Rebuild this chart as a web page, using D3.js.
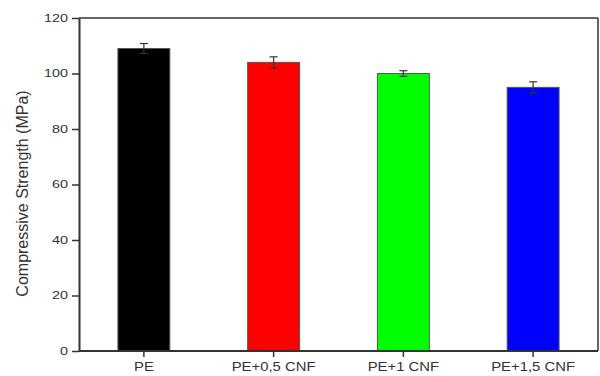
<!DOCTYPE html>
<html>
<head>
<meta charset="utf-8">
<script src="https://cdn.jsdelivr.net/npm/d3@7"></script>
<style>
  html, body { margin: 0; padding: 0; background: #fff; }
  svg { display: block; font-family: "Liberation Sans", Arial, sans-serif; }
</style>
</head>
<body>
<svg id="chart" width="600" height="376"></svg>
<script>
// Compressive strength of PE and PE/CNF composites
const categories = ["PE", "PE+0,5 CNF", "PE+1 CNF", "PE+1,5 CNF"];
const strength = [109, 104, 100, 95];
const strengthErr = [1.8, 2.0, 1.0, 2.0];
const barColors = ["#000000", "#ff0000", "#00ff00", "#0000ff"];
const yTicks = [0, 20, 40, 60, 80, 100, 120];
const yLabel = "Compressive Strength (MPa)";

const svg = d3.select("#chart");
const margin = { left: 79, right: 2, top: 18, bottom: 25 };
const W = 600, H = 376;
const x0 = margin.left, x1 = W - margin.right;
const y0 = H - margin.bottom, y1 = margin.top;

const x = d3.scaleBand().domain(categories).range([x0, x1])
  .paddingInner(0.6).paddingOuter(0.3);
const y = d3.scaleLinear().domain([0, 120]).range([y0, y1]);

const axisColor = "#333";
const textColor = "#333";

// bars
svg.append("g").selectAll("rect")
  .data(categories)
  .join("rect")
  .attr("x", d => x(d))
  .attr("width", x.bandwidth())
  .attr("y", (d, i) => y(strength[i]))
  .attr("height", (d, i) => y(0) - y(strength[i]))
  .attr("fill", (d, i) => barColors[i])
  .attr("stroke", "#555")
  .attr("stroke-width", 1);

// error bars
const eb = svg.append("g").attr("stroke", "#333").attr("stroke-width", 1.2);
categories.forEach((c, i) => {
  const cx = x(c) + x.bandwidth() / 2;
  const hi = y(strength[i] + strengthErr[i]);
  const lo = y(strength[i] - strengthErr[i]);
  eb.append("line").attr("x1", cx).attr("x2", cx).attr("y1", hi).attr("y2", lo);
  eb.append("line").attr("x1", cx - 4).attr("x2", cx + 4).attr("y1", hi).attr("y2", hi);
  eb.append("line").attr("x1", cx - 4).attr("x2", cx + 4).attr("y1", lo).attr("y2", lo);
});

// frame: top and right
svg.append("line").attr("x1", x0).attr("x2", x1).attr("y1", y1).attr("y2", y1)
  .attr("stroke", axisColor).attr("stroke-width", 1.5);
svg.append("line").attr("x1", x1).attr("x2", x1).attr("y1", y1).attr("y2", y0)
  .attr("stroke", axisColor).attr("stroke-width", 1.5);

// y axis
const gy = svg.append("g").attr("transform", `translate(${x0},0)`)
  .call(d3.axisLeft(y).tickValues(yTicks).tickSize(7).tickPadding(4).tickSizeOuter(0));
gy.select(".domain").attr("stroke", axisColor).attr("stroke-width", 2);
gy.selectAll(".tick line").attr("stroke", axisColor).attr("stroke-width", 1.5);
gy.selectAll(".tick text")
  .attr("fill", textColor).attr("font-size", 10.5)
  .each(function () {
    const t = d3.select(this);
    const tx = +t.attr("x");
    t.attr("x", 0).attr("transform", `translate(${tx},0) scale(1.37,1)`);
  });

// x axis
const gx = svg.append("g").attr("transform", `translate(0,${y0})`)
  .call(d3.axisBottom(x).tickSize(6).tickPadding(5).tickSizeOuter(0));
gx.select(".domain").attr("stroke", axisColor).attr("stroke-width", 2)
  .attr("d", `M${x0},0H${x1}`);
gx.selectAll(".tick line").attr("stroke", axisColor).attr("stroke-width", 1.5);
gx.selectAll(".tick text")
  .attr("fill", textColor).attr("font-size", 12)
  .each(function () {
    const t = d3.select(this);
    const ty = +t.attr("y");
    t.attr("y", 0).attr("transform", `translate(0,${ty}) scale(1.24,1)`);
  });

// y axis title
svg.append("text")
  .attr("transform", `translate(28,${(y0 + y1) / 2 + 9}) rotate(-90)`)
  .attr("text-anchor", "middle")
  .attr("fill", textColor)
  .attr("font-size", 16)
  .text(yLabel);
</script>
</body>
</html>
